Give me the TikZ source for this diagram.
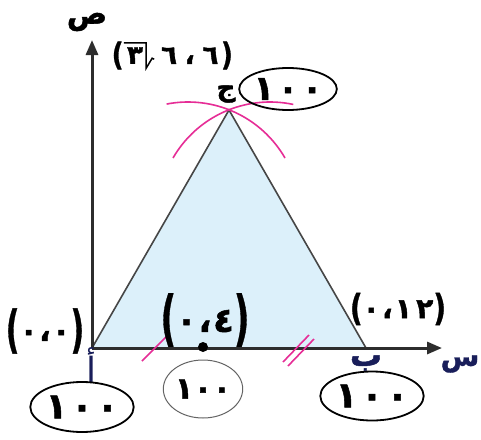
\documentclass[tikz,border=0pt]{standalone}
\usepackage{fontspec}
\usepackage{graphicx}
\usetikzlibrary{arrows.meta,shapes.geometric}
\newfontfamily\arf[Script=Arabic,BoldFeatures={FakeBold=1.5}]{DejaVu Sans}
\newfontfamily\latf[BoldFeatures={FakeBold=1}]{DejaVu Sans}
\definecolor{axisgray}{RGB}{45,45,45}
\definecolor{sidegray}{RGB}{70,70,70}
\definecolor{fillblue}{RGB}{220,240,250}
\definecolor{pinkc}{RGB}{230,45,150}
\definecolor{navy}{RGB}{25,30,90}
\definecolor{circgray}{RGB}{100,100,100}
\newcommand\TallP[3]{\raisebox{#2}{\scalebox{1}[#1]{\latf\bfseries #3}}}
\begin{document}
\begin{tikzpicture}[x=1pt,y=-1pt,
  axisline/.style={draw=axisgray,line width=3pt,-{Triangle[length=15pt,width=12pt]}},
  side/.style={draw=sidegray,line width=1.6pt},
  pinkmark/.style={draw=pinkc,line width=1.6pt},
  oval/.style={draw=black,ellipse,line width=1.8pt,inner sep=0pt},
  ar/.style={inner sep=0pt,font=\arf\bfseries\fontsize{#1}{#1}\selectfont},
]
\useasboundingbox[fill=white] (0,0) rectangle (481,439);
\coordinate (A) at (92,348);
\coordinate (B) at (366,348);
\coordinate (C) at (229,110);
\coordinate (xend) at (442,348);
\coordinate (yend) at (92,40);
\fill[fillblue] (A) -- (B) -- (C) -- cycle;
\draw[side] (A) -- (C) -- (B);
\draw[axisline] (A) -- (xend);
\draw[axisline] (A) -- (yend);
% compass arcs
\draw[pinkmark] (188,214) ++(-101:112) arc[start angle=-101,end angle=-30,radius=112];
\draw[pinkmark] (270,214) ++(-150:112) arc[start angle=-150,end angle=-78,radius=112];
% tick marks
\draw[pinkmark] (142,361) -- (168,335);
\draw[pinkmark] (283,362) -- (309,335);
\draw[pinkmark] (288,366) -- (314,339);
% point (4,0)
\node[circle,fill=black,inner sep=0pt,minimum size=10pt] (P) at (203,347) {};
% axis letters
\node[ar=30] (ys) at (87,22) {ص};
\node[ar=28,text=navy] (xs) at (460,364) {س};
\node[inner sep=0pt,font=\arf\fontsize{36}{36}\selectfont,text=navy] (la) at (91,366) {أ};
\node[ar=32,text=navy] (lb) at (366,363) {ب};
\node[ar=26] (lc) at (226,94) {ج};
% coordinates
\node[ar=30] (p0) at (45,331) {\TallP{1.7}{-0.2em}{(}٠\hspace{0.05em}،\hspace{0.05em}٠\TallP{1.7}{-0.2em}{)}};
\node[ar=34] (p4) at (205,320) {\TallP{1.75}{-0.2em}{(}٠\hspace{0.05em}،\hspace{0.05em}٤\TallP{1.75}{-0.2em}{)}};
\node[ar=28] (p12) at (398,309) {\TallP{1.3}{-0.08em}{(}٠\hspace{0.08em}،\hspace{0.08em}١\hspace{0.15em}٢\TallP{1.3}{-0.08em}{)}};
\node[ar=26,minimum width=22pt,minimum height=25pt] (r3) at (135,55.5) {٣};
\node[ar=26,anchor=east] (rl) at (r3.west) {\TallP{1.2}{-0.05em}{(}};
\node[ar=26,anchor=west] (rr) at (161,55.5) {٦\hspace{0.3em}،\hspace{0.3em}٦\hspace{0.1em}\TallP{1.2}{-0.05em}{)}};
\draw[line width=1.5pt] (r3.north west) -- (r3.north east) -- (r3.south east) -- ++(6,-10) -- ++(2,1);
% ovals
\node[oval,ar=36,minimum width=99pt,minimum height=50pt] (o1) at (82,407) {١\hspace{0.1em}٠\hspace{0.1em}٠};
\node[oval,ar=36,minimum width=99pt,minimum height=49pt] (o3) at (372,396) {١\hspace{0.1em}٠\hspace{0.1em}٠};
\node[oval,ar=34,minimum width=97pt,minimum height=42pt] (o4) at (288,89) {١\hspace{0.1em}٠\hspace{0.1em}٠};
\node[ellipse,draw=circgray,line width=1pt,inner sep=0pt,ar=30,minimum width=67pt,minimum height=58pt] (o2) at (203,389) {١\hspace{0.02em}٠\hspace{0.02em}٠};
\end{tikzpicture}
\end{document}
